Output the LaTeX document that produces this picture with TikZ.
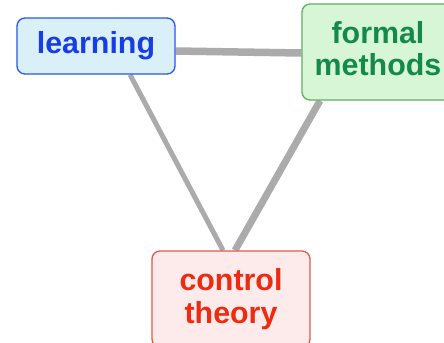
\documentclass[tikz,border=0pt]{standalone}
\usepackage{fontspec}
\setmainfont{Liberation Sans}
\usetikzlibrary{positioning,backgrounds}

\definecolor{learnfill}{HTML}{DAF0F8}
\definecolor{learndraw}{HTML}{2A55EE}
\definecolor{learntext}{HTML}{1A3CE6}
\definecolor{formfill}{HTML}{D6F6D6}
\definecolor{formdraw}{HTML}{5DB05D}
\definecolor{formtext}{HTML}{138A48}
\definecolor{ctrlfill}{HTML}{FDEBEB}
\definecolor{ctrldraw}{HTML}{DD5A4A}
\definecolor{ctrltext}{HTML}{EE2A10}
\definecolor{linkgray}{HTML}{ABABAB}

\begin{document}
\begin{tikzpicture}[
    x=1bp, y=-1bp,
    font=\fontsize{30.5}{33}\selectfont\bfseries,
    box/.style={draw, rounded corners=8bp, align=center, line width=1.3bp, inner sep=0pt},
    learnbox/.style={box, fill=learnfill, draw=learndraw, text=learntext,
                     minimum width=158bp, minimum height=56bp},
    formbox/.style={box, fill=formfill, draw=formdraw, text=formtext,
                    minimum width=152bp, minimum height=96bp, text depth=7bp},
    ctrlbox/.style={box, fill=ctrlfill, draw=ctrldraw, text=ctrltext,
                    minimum width=158bp, minimum height=96bp},
    link/.style={draw=linkgray, line cap=butt}
  ]
  \useasboundingbox (0,0) rectangle (444,342);
  \clip (0,0) rectangle (444,342);

  % ---- the three fields ----
  \node[learnbox] (learn) at (96,46) {learning};
  \node[formbox] (formal) at (378,52) {formal\\methods};
  \node[ctrlbox] (ctrl) at (231,299) {control\\theory};

  % ---- links between them ----
  \begin{scope}[on background layer]
    \draw[link, line width=7.5bp] ([yshift=-5bp]learn.east) -- ([yshift=-1bp]formal.west);
    \draw[link, line width=5bp] ([xshift=34bp]learn.south) -- ([xshift=-8bp]ctrl.north);
    \draw[link, line width=7bp] ([xshift=-58bp]formal.south) -- ([xshift=4bp]ctrl.north);
  \end{scope}

\end{tikzpicture}
\end{document}
